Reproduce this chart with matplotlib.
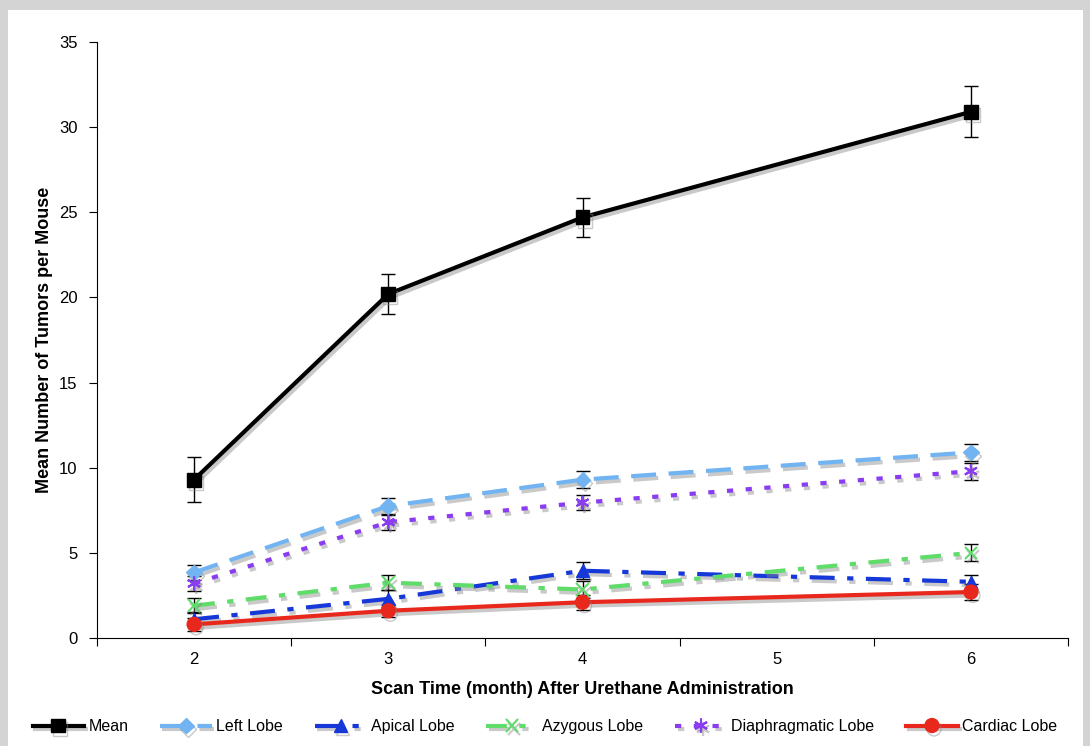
import matplotlib.pyplot as plt
import matplotlib.patheffects as pe
from matplotlib.patches import Rectangle

# scan months (category axis 2..6, month 5 has no data)
months = [2, 3, 4, 6]
categories = [2, 3, 4, 5, 6]

mean = [9.3, 20.2, 24.7, 30.9]
mean_err = [1.3, 1.2, 1.15, 1.5]

left_lobe = [3.85, 7.75, 9.3, 10.9]
left_err = [0.45, 0.45, 0.5, 0.5]

apical = [1.1, 2.3, 3.95, 3.3]
apical_err = [0.4, 0.5, 0.5, 0.4]

azygous = [1.9, 3.25, 2.85, 5.0]
azygous_err = [0.45, 0.45, 0.5, 0.5]

diaphragmatic = [3.2, 6.8, 7.95, 9.8]
diaphragmatic_err = [0.45, 0.45, 0.45, 0.5]

cardiac = [0.8, 1.6, 2.1, 2.7]
cardiac_err = [0.4, 0.35, 0.45, 0.45]

plt.rcParams['font.family'] = ['Liberation Sans', 'DejaVu Sans']

fig = plt.figure(figsize=(10.9, 7.46), dpi=100)
fig.patch.set_facecolor('#d4d4d4')
fig.patches.append(Rectangle((8 / 1090, 0), 1075 / 1090, 736 / 746,
                             transform=fig.transFigure, facecolor='white',
                             edgecolor='none', zorder=-5))
ax = fig.add_axes([97 / 1090, 1 - 638 / 746, 971 / 1090, 596 / 746])
ax.set_facecolor('none')

shadow = [pe.SimpleLineShadow(offset=(1.5, -2.5), shadow_color='#888888', alpha=0.45),
          pe.Normal()]

series = [
    ("Mean", mean, mean_err, dict(color='black', ls='-', marker='s', ms=10)),
    ("Left Lobe", left_lobe, left_err, dict(color='#72b4f2', ls=(0, (6, 3)), marker='D', ms=8)),
    ("Apical Lobe", apical, apical_err, dict(color='#1638d8', ls=(0, (6, 3, 1.5, 3)), marker='^', ms=9)),
    ("Azygous Lobe", azygous, azygous_err, dict(color='#5fdc6a', ls=(0, (5, 3, 1.5, 3)), marker='x', ms=9, mew=1.5)),
    ("Diaphragmatic Lobe", diaphragmatic, diaphragmatic_err, dict(color='#8a3cf0', ls=(0, (1.5, 3)), marker=(6, 2, 0), ms=10, mew=1.5)),
    ("Cardiac Lobe", cardiac, cardiac_err, dict(color='#e8281c', ls='-', marker='o', ms=10)),
]

for name, vals, err, style in series:
    ax.errorbar(months, vals, yerr=err, fmt='none', ecolor='black',
                elinewidth=1, capsize=5, capthick=1, zorder=2)
    ax.plot(months, vals, label=name, lw=3, zorder=3, path_effects=shadow, **style)

ax.set_xlim(1.5, 6.5)
ax.set_ylim(0, 35)
ax.set_yticks(range(0, 36, 5))
ax.set_xticks([1.5 + i for i in range(6)])
ax.set_xticklabels([])
ax.set_xticks(categories, minor=True)
ax.set_xticklabels([str(c) for c in categories], minor=True)
ax.tick_params(axis='x', which='minor', length=0, pad=10, labelsize=12)
ax.tick_params(axis='x', which='major', direction='out', length=6)
ax.tick_params(axis='y', direction='out', length=6, labelsize=12, pad=8)
ax.spines['top'].set_visible(False)
ax.spines['right'].set_visible(False)

ax.set_xlabel("Scan Time (month) After Urethane Administration",
              fontsize=13, fontweight='bold', labelpad=10)
ax.set_ylabel("Mean Number of Tumors per Mouse",
              fontsize=13, fontweight='bold', labelpad=4)

fig.legend(loc='center', bbox_to_anchor=(0.5, 0.026), ncol=6, frameon=False,
           fontsize=11.5, handlelength=3.2, columnspacing=2.0, handletextpad=0.3)

fig.savefig("out.png", dpi=100, facecolor=fig.get_facecolor())
